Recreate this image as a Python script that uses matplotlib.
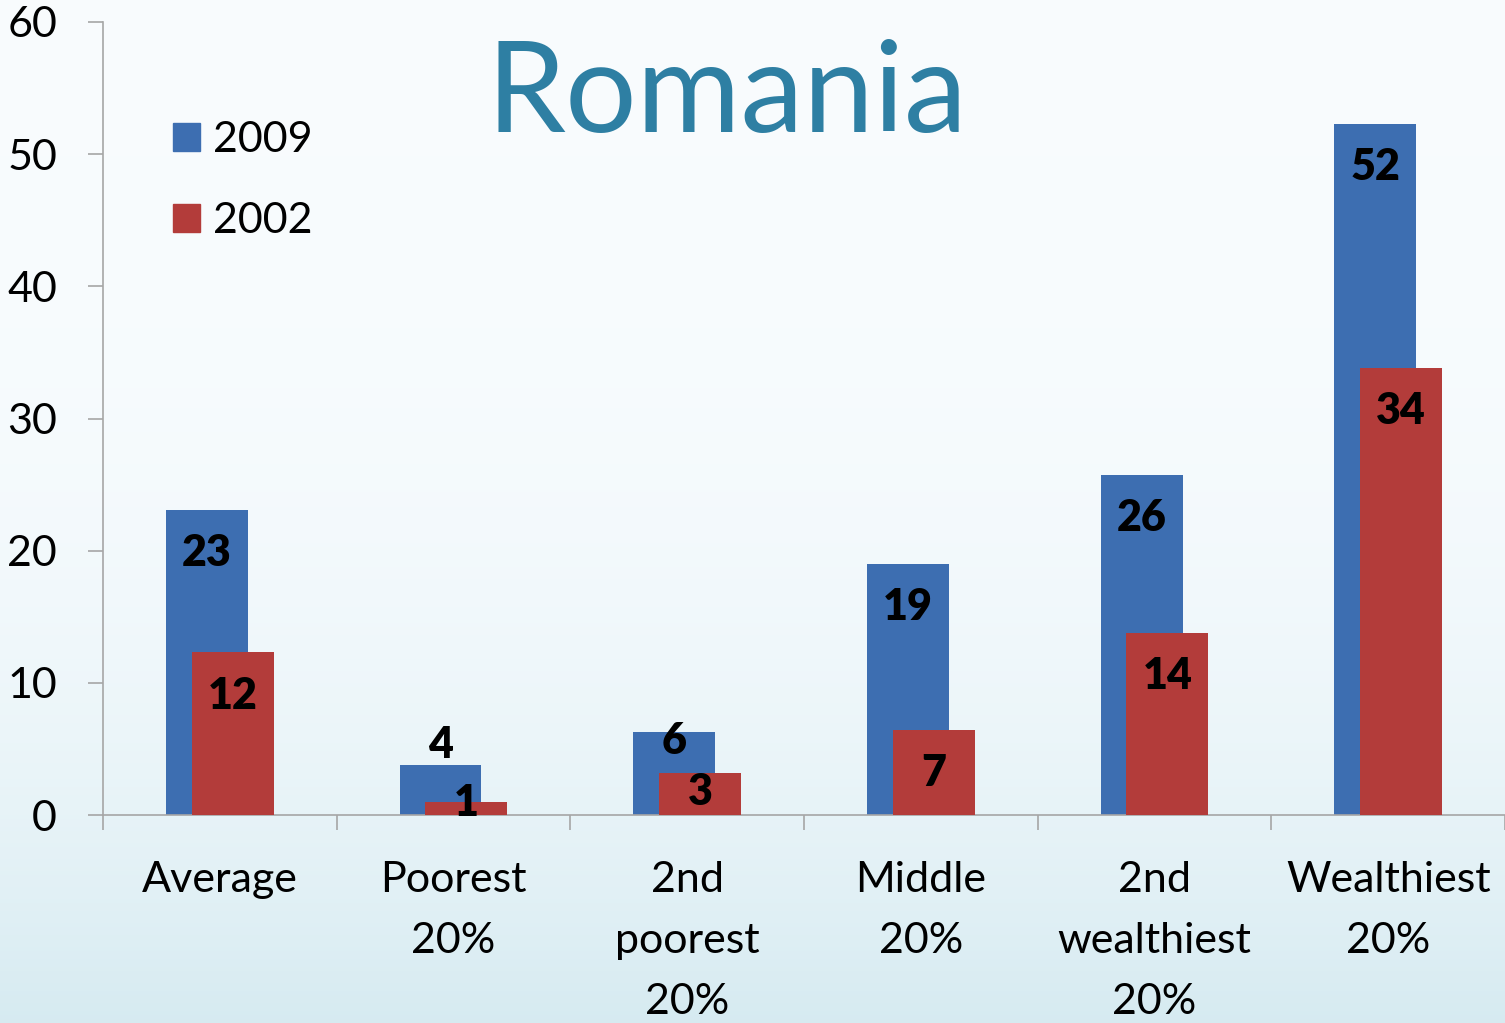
# Romania: bars by wealth group, 2009 vs 2002

import numpy as np
import matplotlib.pyplot as plt
from matplotlib.patches import Patch

plt.rcParams['font.family'] = ['Lato', 'DejaVu Sans']

categories = ["Average", "Poorest\n20%", "2nd\npoorest\n20%", "Middle\n20%",
              "2nd\nwealthiest\n20%", "Wealthiest\n20%"]
values_2009 = [23.1, 3.8, 6.3, 19.0, 25.7, 52.3]
values_2002 = [12.3, 1.0, 3.2, 6.4, 13.8, 33.8]
labels_2009 = ["23", "4", "6", "19", "26", "52"]
labels_2002 = ["12", "1", "3", "7", "14", "34"]

# label distance below the bar top, in points (small bars are shifted)
off_2009 = [31, -14, 7, 31, 31, 31]
off_2002 = [31, 1, 14, 31, 31, 31]

blue = "#3D6EB1"
red = "#B33C3A"

fig = plt.figure(figsize=(15.05, 10.23), dpi=100)

# soft gradient background
bg = fig.add_axes([0, 0, 1, 1], zorder=-10)
grad = np.linspace(0, 1, 256).reshape(-1, 1)
grad = grad ** 3
top = np.array([0.973, 0.988, 0.996])
bot = np.array([0.84, 0.92, 0.945])
img = top + (bot - top) * grad[:, :, None]
bg.imshow(img, aspect='auto', extent=[0, 1, 0, 1], origin='upper')
bg.axis('off')

ax = fig.add_axes([0.0684, 0.2033, 0.9316, 0.7752])
ax.patch.set_alpha(0)

x = np.arange(len(categories))
w = 0.35
d = 0.055
b1 = ax.bar(x - d, values_2009, w, color=blue, zorder=2)
b2 = ax.bar(x + d, values_2002, w, color=red, zorder=3)

for bars, labs, offs in [(b1, labels_2009, off_2009), (b2, labels_2002, off_2002)]:
    for rect, lab, off in zip(bars, labs, offs):
        ax.annotate(lab, (rect.get_x() + rect.get_width() / 2, rect.get_height()),
                    xytext=(0, -off), textcoords='offset points',
                    ha='center', va='center', fontsize=31, fontweight='heavy',
                    color='black', zorder=5)

ax.set_xlim(-0.5, 5.5)
ax.set_ylim(0, 60)
ax.set_yticks(range(0, 61, 10))
ax.set_xticks(x)
ax.set_xticklabels(categories)
ax.set_xticks(np.arange(-0.5, 6, 1), minor=True)

for s in ['top', 'right']:
    ax.spines[s].set_visible(False)
for s in ['left', 'bottom']:
    ax.spines[s].set_color('#A6A6A6')
    ax.spines[s].set_linewidth(1.2)

ax.tick_params(axis='y', length=11, width=1.2, color='#A6A6A6', labelsize=31, pad=22)
ax.tick_params(axis='x', which='major', length=0, labelsize=31, pad=33)
ax.tick_params(axis='x', which='minor', length=11, width=1.2, color='#A6A6A6')
for t in ax.get_xticklabels():
    t.set_linespacing(1.74)
    t.set_va('top')

ax.legend(handles=[Patch(color=blue, label="2009"), Patch(color=red, label="2002")],
          loc='upper left', bbox_to_anchor=(0.038, 0.897), frameon=False,
          fontsize=31, handlelength=0.62, handleheight=0.62, handletextpad=0.3,
          labelspacing=1.0, borderaxespad=0)

fig.text(0.483, 0.871, "Romania", fontsize=91, color="#2E7FA3",
         ha='center', va='baseline')

fig.savefig("out.png", dpi=100)
